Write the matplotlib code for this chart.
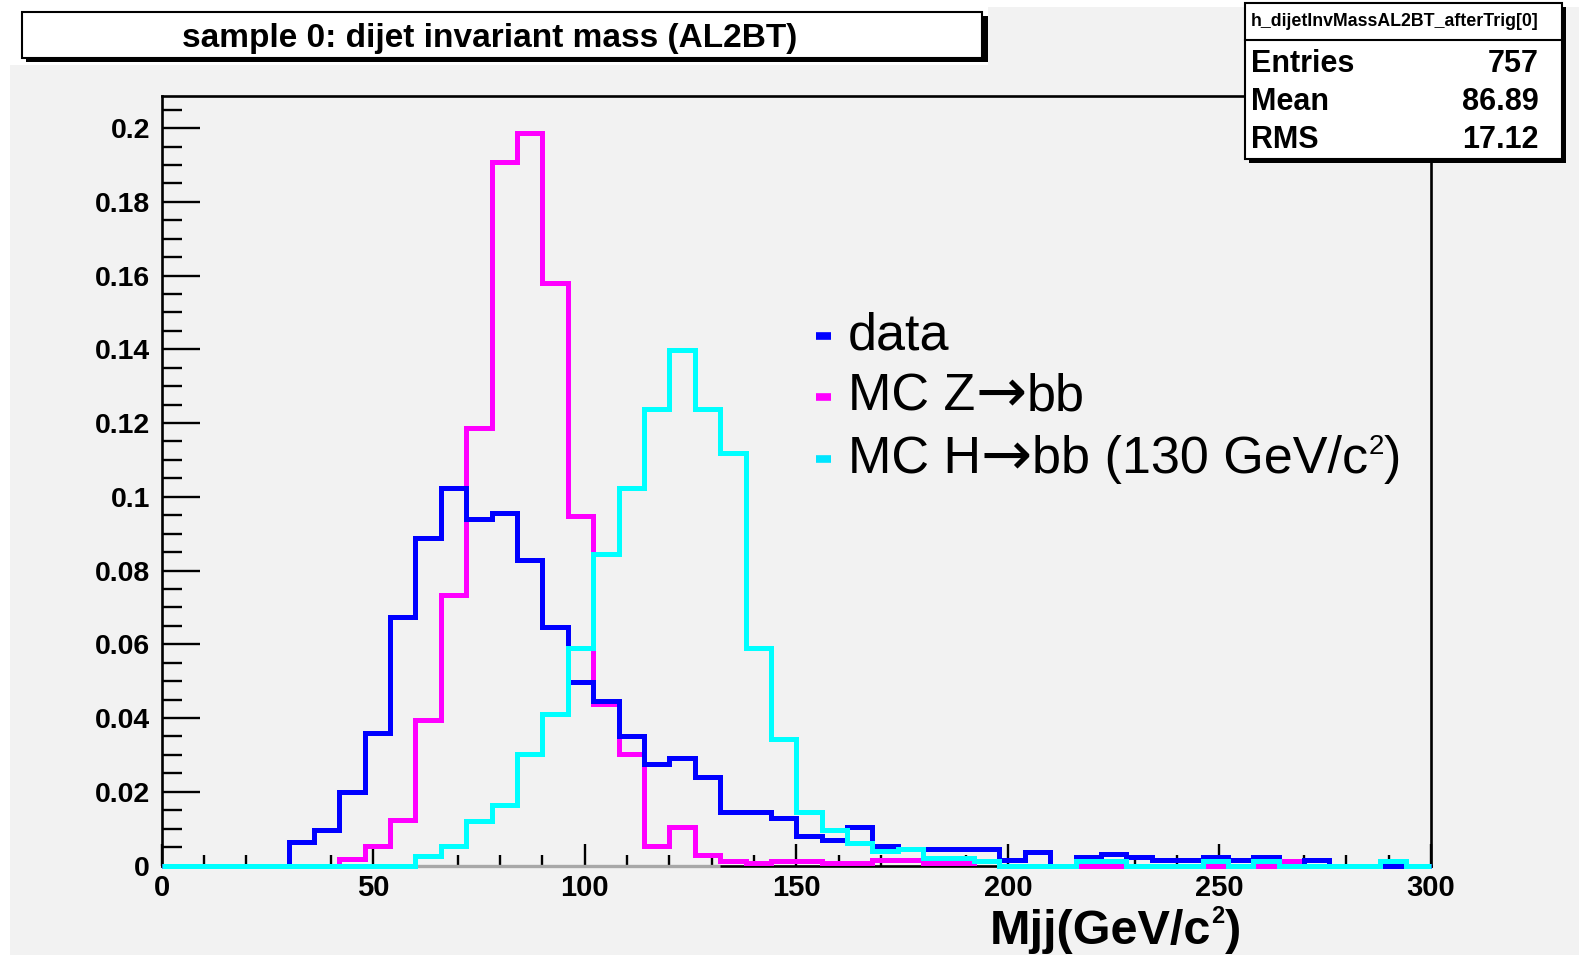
import numpy as np
import matplotlib
matplotlib.use('Agg')
import matplotlib.pyplot as plt
from matplotlib.patches import Rectangle
from matplotlib.lines import Line2D
from matplotlib.ticker import MultipleLocator, FuncFormatter

# ---------------- data ----------------
x_min, x_max, bin_width = 0, 300, 6
data_vals = [0, 0, 0, 0, 0,
             0.0063, 0.0095, 0.0199, 0.0359, 0.0673,
             0.0888, 0.1025, 0.0939, 0.0956, 0.0828,
             0.0648, 0.0497, 0.0447, 0.0350, 0.0275,
             0.0291, 0.0241, 0.0146, 0.0146, 0.0130,
             0.0079, 0.0070, 0.0104, 0.0052, 0.0045,
             0.0044, 0.0044, 0.0044, 0.0015, 0.0036,
             0, 0.0024, 0.0032, 0.0024, 0.0015,
             0.0015, 0.0024, 0.0015, 0.0024, 0,
             0.0015, 0, 0, 0, 0]
zbb_vals = [0, 0, 0, 0, 0, 0, 0,
            0.0018, 0.0052, 0.0124, 0.0395, 0.0734,
            0.1186, 0.1909, 0.1986, 0.1579, 0.0948,
            0.0437, 0.0302, 0.0053, 0.0104, 0.0029,
            0.0011, 0.0006, 0.0011, 0.0011, 0.0006,
            0.0006, 0.0015, 0.0015, 0.0006, 0.0006,
            0.0011, 0, 0, 0, 0,
            0, 0, 0, 0, 0,
            0, 0, 0.0013, 0, 0,
            0, 0, 0]
hbb_vals = [0, 0, 0, 0, 0, 0, 0, 0, 0, 0,
            0.0027, 0.0052, 0.0121, 0.0163, 0.0302,
            0.0410, 0.0589, 0.0845, 0.1025, 0.1239,
            0.1399, 0.1239, 0.1118, 0.0589, 0.0344,
            0.0146, 0.0097, 0.0062, 0.0038, 0.0045,
            0.0020, 0.0020, 0.0011, 0, 0,
            0, 0.0013, 0.0013, 0, 0,
            0, 0.0013, 0, 0.0013, 0,
            0, 0, 0, 0.0013, 0]
zero_band_end = 132
y_top = 0.2087
x_ticks = [0, 50, 100, 150, 200, 250, 300]
# legend label pieces: (text, kind, family)   kind: 'n' normal, 's' superscript, 'a' arrow
legend_labels = [[('data', 'n', None)],
                 [('MC Z', 'n', None), ('\u2192', 'a', 'DejaVu Sans'), ('bb', 'n', None)],
                 [('MC H', 'n', None), ('\u2192', 'a', 'DejaVu Sans'),
                  ('bb (130 GeV/c', 'n', None), ('2', 's', None), (')', 'n', None)]]
stats_title = 'h_dijetInvMassAL2BT_afterTrig[0]'
stats_names = ['Entries', 'Mean', 'RMS']
stats_values = ['757', '86.89', '17.12']
title = 'sample 0: dijet invariant mass (AL2BT)'
xlabel_pieces = [('Mjj(GeV/c', 'n', None), ('2', 's', None), (')', 'n', None)]

# ---------------- style ----------------
plt.rcParams['font.family'] = ['Liberation Sans', 'DejaVu Sans']
plt.rcParams['font.weight'] = 'bold'

W, H = 1579, 955
GRAY = '#f2f2f2'
BLUE, MAGENTA, CYAN = '#0000ff', '#ff00ff', '#00ffff'

def fx(px):
    return px / W

def fy(py):
    return 1 - py / H

fig = plt.figure(figsize=(W / 100, H / 100), dpi=100, facecolor='white')
renderer = fig.canvas.get_renderer()

def prect(x0, y0, x1, y1, **kw):
    r = Rectangle((fx(x0), fy(y1)), (x1 - x0) / W, (y1 - y0) / H,
                  transform=fig.transFigure, **kw)
    fig.add_artist(r)
    return r

def chain_text(x_px, base_px, pieces, size, sup_size, sup_rise, weight,
               arrow_size=None, arrow_drop=0):
    xpos = x_px
    for txt, kind, fam in pieces:
        fs = {'n': size, 's': sup_size, 'a': arrow_size or size}[kind]
        kw = dict(ha='left', va='baseline', fontweight=weight, zorder=6, fontsize=fs)
        if fam is not None:
            kw['family'] = [fam]
        yb = base_px
        if kind == 's':
            yb = base_px - sup_rise
        elif kind == 'a':
            yb = base_px + arrow_drop
        t = fig.text(fx(xpos), fy(yb), txt, **kw)
        xpos = t.get_window_extent(renderer).x1
    return xpos

# pad background
prect(10, 65, W, H, facecolor=GRAY, edgecolor='none', zorder=-10)
prect(988, 7, W, 65, facecolor=GRAY, edgecolor='none', zorder=-10)

# axes
ax_l, ax_r, ax_t, ax_b = 161.6, 1431, 96, 865.5
ax = fig.add_axes([fx(ax_l), fy(ax_b), (ax_r - ax_l) / W, (ax_b - ax_t) / H])
ax.set_facecolor(GRAY)
ax.set_xlim(x_min, x_max)
ax.set_ylim(0, y_top)

edges = np.arange(x_min, x_max + bin_width, bin_width)

ax.hlines(0, x_min, zero_band_end, color='#a8a8a8', lw=2.4, zorder=2.0, clip_on=False)
lw = 3.6
for vals, col, z in [(zbb_vals, MAGENTA, 2.1), (data_vals, BLUE, 2.2), (hbb_vals, CYAN, 2.3)]:
    sp = ax.stairs(vals, edges, color=col, lw=lw, zorder=z, clip_on=False)
    sp.set_joinstyle('miter')

for s in ax.spines.values():
    s.set_linewidth(1.9)
    s.set_zorder(1)

ax.xaxis.set_major_locator(MultipleLocator(50))
ax.xaxis.set_minor_locator(MultipleLocator(10))
ax.yaxis.set_major_locator(MultipleLocator(0.02))
ax.yaxis.set_minor_locator(MultipleLocator(0.005))
ax.set_xticks(x_ticks)
ax.yaxis.set_major_formatter(FuncFormatter(lambda v, p: '%g' % round(v, 4)))
ax.tick_params(axis='y', which='major', direction='in', length=27.4, width=1.7,
               pad=8.4, labelsize=20.5)
ax.tick_params(axis='y', which='minor', direction='in', length=14.4, width=1.7)
ax.tick_params(axis='x', which='major', direction='in', length=16, width=1.7,
               pad=6, labelsize=21)
ax.tick_params(axis='x', which='minor', direction='in', length=8, width=1.7)
ax.tick_params(top=False, right=False, which='both')

# x label (right edge near 1243 px)
chain_text(990, 944, xlabel_pieces, size=35, sup_size=17, sup_rise=21, weight='bold')

# title box
prect(26, 16, 988, 62, facecolor='black', edgecolor='none', zorder=5)
prect(22, 12, 982, 58, facecolor='white', edgecolor='black', lw=1.5, zorder=5.1)
fig.text(fx(490), fy(47), title, ha='center', va='baseline', fontsize=24,
         fontweight='bold', zorder=6)

# stats box
prect(1249, 7, 1566, 163, facecolor='black', edgecolor='none', zorder=5)
prect(1245, 3, 1562, 159, facecolor='white', edgecolor='black', lw=1.5, zorder=5.1)
fig.add_artist(Line2D([fx(1245), fx(1562)], [fy(40), fy(40)], color='black', lw=1.5,
                      transform=fig.transFigure, zorder=5.2))
fig.text(fx(1395), fy(22), stats_title, ha='center', va='center', fontsize=12.8,
         fontweight='bold', zorder=6)
for i, (nm, vl) in enumerate(zip(stats_names, stats_values)):
    yb = [72, 110, 148][i]
    fig.text(fx(1251), fy(yb), nm, ha='left', va='baseline', fontsize=22,
             fontweight='bold', zorder=6)
    fig.text(fx(1539), fy(yb), vl, ha='right', va='baseline', fontsize=22,
             fontweight='bold', zorder=6)

# legend
leg_cols = [BLUE, MAGENTA, '#00e5ff']
for i, (pieces, col) in enumerate(zip(legend_labels, leg_cols)):
    ym = [336, 397, 459][i]
    yb = [349, 410, 473][i]
    fig.add_artist(Line2D([fx(816), fx(831)], [fy(ym), fy(ym)], color=col, lw=5.5,
                          solid_capstyle='butt', transform=fig.transFigure, zorder=6))
    chain_text(848, yb, pieces, size=37.5, sup_size=20, sup_rise=19, weight='normal',
               arrow_size=44, arrow_drop=2)

fig.savefig('out.png', dpi=100, facecolor=fig.get_facecolor())
